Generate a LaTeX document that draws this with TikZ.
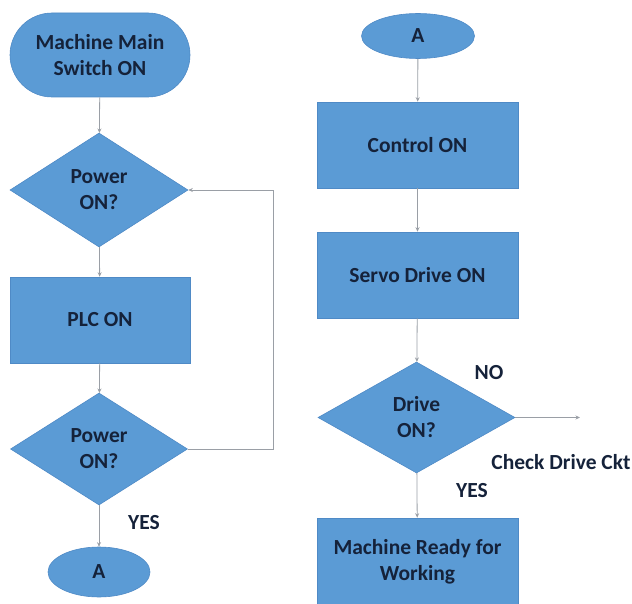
\documentclass[tikz,border=0pt]{standalone}
\usepackage{fontspec}
\setmainfont{Carlito}
\usetikzlibrary{shapes.geometric,arrows.meta}
\definecolor{boxblue}{HTML}{5B9BD5}
\definecolor{edgeblue}{HTML}{4F8AC6}
\definecolor{txt}{HTML}{15223A}
\definecolor{lin}{HTML}{9A9FA6}
\tikzset{
  base/.style={fill=boxblue, draw=edgeblue, line width=0.6pt, text=txt,
    font=\fontsize{21.5}{26}\selectfont\bfseries, align=center, inner sep=0pt},
  procbox/.style={base, rectangle, minimum width=201pt, minimum height=86pt},
  termbox/.style={base, rectangle, rounded corners=42pt, minimum width=180pt, minimum height=84pt},
  decbox/.style={base, diamond, aspect=1.6},
  conn/.style={base, ellipse},
  flow/.style={draw=lin, line width=0.8pt, -{Stealth[length=4.5pt,width=4pt]}},
  lbl/.style={text=txt, font=\fontsize{21.5}{26}\selectfont\bfseries, inner sep=0pt}
}
\begin{document}
\begin{tikzpicture}[x=1pt,y=-1pt]
\useasboundingbox (0,0) rectangle (632,604);
% left column
\node[termbox] (start) at (100,55) {Machine Main\\Switch ON};
\node[decbox, minimum width=178pt, minimum height=114pt] (d1) at (99,190) {Power\\ON?};
\node[procbox, minimum width=180pt] (plc) at (100,320) {PLC ON};
\node[decbox, minimum width=177pt, minimum height=112pt] (d2) at (99,449) {Power\\ON?};
\node[conn, minimum width=102pt, minimum height=50pt] (a1) at (99,572) {A};
\node[lbl] (yes1) at (144,523) {YES};
\coordinate (loopb) at (273,449);
\coordinate (loopt) at (273,190);
\draw[flow] (start) -- (d1);
\draw[flow] (d1) -- (plc);
\draw[flow] (plc) -- (d2);
\draw[flow] (d2) -- (a1);
\draw[flow] (d2.east) -- (loopb) -- (loopt) -- (d1.east);
% right column
\node[conn, minimum width=113pt, minimum height=45pt] (a2) at (418,36) {A};
\node[procbox] (ctrl) at (417.5,145) {Control ON};
\node[procbox] (servo) at (417.5,275) {Servo Drive ON};
\node[decbox, minimum width=197pt, minimum height=111pt] (d3) at (416.5,417.5) {Drive\\ON?};
\node[procbox, minimum height=88pt] (ready) at (417.5,562) {Machine Ready for\\Working};
\coordinate (chk) at (580,417.5);
\node[lbl] (no) at (489,373) {NO};
\node[lbl] (check) at (561,462) {Check Drive Ckt};
\node[lbl] (yes2) at (472,491) {YES};
\draw[flow] (a2) -- (ctrl);
\draw[flow] (ctrl) -- (servo);
\draw[flow] (servo) -- (d3);
\draw[flow] (d3) -- (ready);
\draw[flow] (d3.east) -- (chk);
\end{tikzpicture}
\end{document}
